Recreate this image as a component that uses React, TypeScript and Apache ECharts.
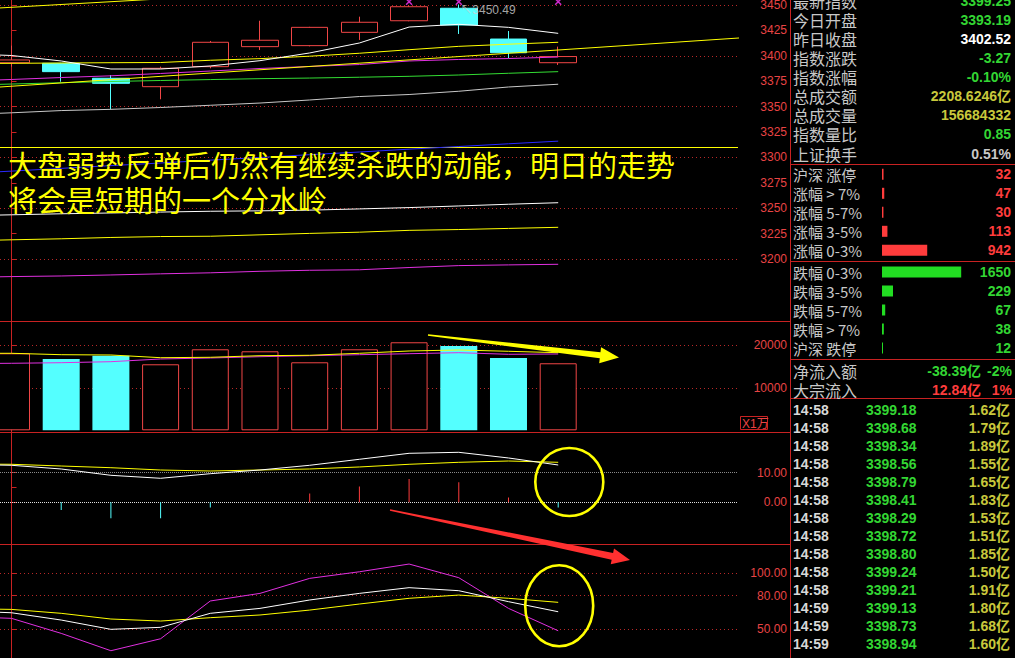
import { useEffect, useRef } from 'react';
import * as echarts from 'echarts';

// ---------------- data ----------------
const candleIdx = [0, 1, 2, 3, 4, 5, 6, 7, 8, 9, 10, 11];
const opens = [3393.2, 3392.6, 3377.9, 3369.6, 3389.3, 3409.0, 3410.0, 3423.1, 3434.5, 3446.8, 3416.5, 3393.19];
const closes = [3395.9, 3384.4, 3372.9, 3387.7, 3413.3, 3415.3, 3428.0, 3433.0, 3448.3, 3430.3, 3403.0, 3399.25];
const lows = [3389.3, 3374.5, 3347.3, 3357.2, 3387.7, 3405.7, 3409.3, 3415.6, 3434.0, 3421.5, 3397.5, 3391.0];
const highs = [3410.0, 3393.0, 3381.1, 3389.3, 3414.6, 3434.5, 3428.5, 3438.5, 3449.5, 3450.49, 3424.4, 3409.0];

// moving averages on the price panel (first value = bar before the visible window)
const maWhite = [3402.0, 3400.3, 3394.9, 3387.0, 3387.0, 3390.0, 3395.2, 3402.8, 3412.6, 3428.3, 3431.0, 3428.0, 3422.1];
const maYellow = [3392.4, 3392.6, 3392.9, 3393.2, 3393.4, 3395.6, 3397.2, 3399.6, 3402.5, 3406.0, 3409.3, 3411.4, 3413.3];
const maMagenta = [3375.0, 3376.7, 3378.6, 3380.3, 3382.6, 3385.0, 3387.5, 3389.5, 3391.4, 3394.9, 3396.4, 3397.3, 3398.8];
const maGreen = [3371.0, 3372.2, 3373.5, 3374.7, 3375.7, 3376.6, 3377.5, 3378.1, 3378.9, 3379.8, 3381.1, 3382.8, 3384.4];
const maGrey = [3342.0, 3343.9, 3346.1, 3347.3, 3349.1, 3351.3, 3353.5, 3356.5, 3359.9, 3361.9, 3365.1, 3369.3, 3372.0];
const maBlue = [3284.0, 3286.5, 3289.2, 3291.9, 3294.5, 3297.3, 3299.9, 3302.7, 3305.3, 3308.1, 3310.7, 3313.4, 3316.0];
const maLowWhite = [3242.5, 3243.5, 3244.5, 3245.3, 3246.2, 3247.0, 3247.4, 3248.1, 3249.3, 3250.6, 3252.2, 3253.9, 3255.4];
const maLowYellow = [3217.8, 3218.9, 3219.9, 3221.2, 3222.1, 3222.4, 3223.8, 3225.2, 3226.4, 3228.2, 3229.0, 3230.1, 3231.2];
const maLowMagenta = [3181.8, 3182.7, 3183.3, 3184.3, 3185.4, 3186.4, 3187.9, 3188.9, 3189.4, 3191.6, 3193.5, 3194.2, 3194.8];

// drawn trend lines: [index, price]
const trendLong = [[-1, 3366.8], [15, 3418.7]];
const trendTop = [[-1, 3445.0], [3, 3456.0]];
const hLineLevel = 3310;
const signalIdx = [8, 9, 11];
const signalLevel = 3453.2;
const highMarkIdx = 9;
const highMarkValue = 3450.49;

// volume (x1万)
const volumes = [18120, 16780, 17550, 15530, 19060, 18590, 16000, 19060, 20710, 19840, 17010, 15770];
const volMaYellow = [18120, 18118, 17788, 17718, 17082, 17176, 17553, 17647, 18118, 18659, 18894, 18588, 18259];
const volMaMagenta = [15700, 15765, 15906, 16141, 16776, 17012, 17318, 17553, 17788, 18024, 18259, 17882, 17953];

// MACD
const macdDif = [12.8, 12.5, 11.25, 9.12, 8.11, 9.66, 10.91, 12.5, 14.53, 16.55, 16.89, 14.97, 12.6];
const macdDea = [12.95, 12.84, 12.26, 11.69, 10.91, 10.57, 10.91, 11.25, 11.93, 12.84, 13.51, 13.95, 13.51];
const macdHist = [0, -2.6, -5.4, -5.4, -1.8, 0, 3.0, 5.3, 7.9, 6.8, 1.6, -1.8];

// KDJ
const kdjK = [66.5, 64.8, 58.3, 50.0, 51.8, 64.3, 68.7, 76.2, 82.1, 87.2, 84.5, 74.7, 65.7];
const kdjD = [68.5, 67.8, 64.3, 59.2, 57.4, 60.4, 62.8, 67.2, 72.6, 77.7, 80.6, 77.7, 74.1];
const kdjJ = [61.5, 59.8, 46.4, 30.9, 41.6, 75.3, 82.1, 95.5, 101.4, 108.3, 96.1, 68.7, 48.7];

// axis ticks / labels
const priceTicks = [3200, 3225, 3250, 3275, 3300, 3325, 3350, 3375, 3400, 3425, 3450];
const priceGrid = [3200, 3250, 3300, 3350, 3400, 3450];
const volTicks = [10000, 15000, 20000];
const volLabels = [10000, 20000];
const macdTicks = [0, 5, 10];
const macdLabels = [0, 10];
const kdjTicks = [50, 80, 100];

// right info panel
const infoLabels = ['最新指数', '今日开盘', '昨日收盘', '指数涨跌', '指数涨幅', '总成交额', '总成交量', '指数量比', '上证换手'];
const infoValues = ['3399.25', '3393.19', '3402.52', '-3.27', '-0.10%', '2208.6246亿', '156684332', '0.85', '0.51%'];
const infoColors = ['#33d633', '#33d633', '#ffffff', '#33d633', '#33d633', '#c8c83c', '#c8c83c', '#33d633', '#c8c8c8'];

const upLabels = ['沪深 涨停', '涨幅 > 7%', '涨幅 5-7%', '涨幅 3-5%', '涨幅 0-3%'];
const upCounts = [32, 47, 30, 113, 942];
const downLabels = ['跌幅 0-3%', '跌幅 3-5%', '跌幅 5-7%', '跌幅 > 7%', '沪深 跌停'];
const downCounts = [1650, 229, 67, 38, 12];

const flowLabels = ['净流入额', '大宗流入'];
const flowAmounts = ['-38.39亿', '12.84亿'];
const flowPcts = ['-2%', '1%'];
const flowColors = ['#33d633', '#ff3c3c'];

const tickTimes = ['14:58', '14:58', '14:58', '14:58', '14:58', '14:58', '14:58', '14:58', '14:58', '14:58', '14:58', '14:59', '14:59', '14:59'];
const tickPrices = ['3399.18', '3398.68', '3398.34', '3398.56', '3398.79', '3398.41', '3398.29', '3398.72', '3398.80', '3399.24', '3399.21', '3399.13', '3398.73', '3398.94'];
const tickVols = ['1.62', '1.79', '1.89', '1.55', '1.65', '1.83', '1.53', '1.51', '1.85', '1.50', '1.91', '1.80', '1.68', '1.60'];

const noteLines = ['大盘弱势反弹后仍然有继续杀跌的动能，明日的走势', '将会是短期的一个分水岭'];

// ---------------- styles ----------------
const RED_LINE = '#c82222';
const LABEL_RED = '#e84444';
const DOT_RED = '#b82828';
const CANDLE_RED = '#f04646';
const CYAN = '#54ffff';
const YELLOW = '#ffff00';
const NUM_FONT = '"Liberation Sans", Arial, "Noto Sans CJK SC", sans-serif';
const CJK_FONT = '"Noto Sans CJK SC", sans-serif';
const X_MIN = -0.2314;
const X_MAX = 14.618;

const withPrev = (arr: number[]) => arr.map((v, i) => [i - 1, v]);

function lineSeries(data: number[][], color: string, g: number, extra: any = {}) {
  return {
    type: 'line', xAxisIndex: g, yAxisIndex: g, data, symbol: 'none', silent: true,
    lineStyle: { color, width: 1 }, z: 3, clip: true, ...extra,
  };
}

function dotLines(values: number[], color = DOT_RED, type: any = [1, 3]) {
  return values.map((v) => ({ yAxis: v, lineStyle: { color, type, width: 1 } }));
}

function markLines(data: any[]) {
  return { silent: true, symbol: ['none', 'none'], label: { show: false }, z: 1, animation: false, data };
}

function yAx(g: number, min: number, max: number, ticks: number[], labels: number[], fmt: (v: number) => string) {
  return {
    type: 'value', gridIndex: g, position: 'right', min, max,
    axisLine: { show: true, lineStyle: { color: RED_LINE, width: 1 } },
    axisTick: { show: true, inside: false, length: 5, lineStyle: { color: RED_LINE }, customValues: ticks },
    axisLabel: {
      show: true, customValues: labels, formatter: fmt, color: LABEL_RED, fontSize: 12,
      fontFamily: NUM_FONT, align: 'right', margin: 49,
    },
    splitLine: { show: false },
  };
}

function txt(x: number, y: number, text: string, fill: string, fontSize: number, family: string, align = 'left', weight = 'normal') {
  return {
    type: 'text', x, y, silent: true, z: 100,
    style: {
      text, fill, fontSize, fontFamily: family, fontWeight: weight,
      align, verticalAlign: 'middle', textAlign: align, textVerticalAlign: 'middle',
    },
  };
}

function arrowPoints(x1: number, y1: number, x2: number, y2: number, w0: number, w1: number, headLen: number, headHalf: number) {
  const dx = x2 - x1, dy = y2 - y1;
  const L = Math.hypot(dx, dy);
  const ux = dx / L, uy = dy / L, nx = -uy, ny = ux;
  const bx = x2 - ux * headLen, by = y2 - uy * headLen;
  return [
    [x1 + nx * w0 / 2, y1 + ny * w0 / 2],
    [bx + nx * w1 / 2, by + ny * w1 / 2],
    [bx + nx * headHalf, by + ny * headHalf],
    [x2, y2],
    [bx - nx * headHalf, by - ny * headHalf],
    [bx - nx * w1 / 2, by - ny * w1 / 2],
    [x1 - nx * w0 / 2, y1 - ny * w0 / 2],
  ];
}

function buildOption() {
  const isUp = candleIdx.map((i) => closes[i] >= opens[i]);
  const candleData = candleIdx.map((i) => [i, opens[i], closes[i], lows[i], highs[i]]);
  const volData = candleIdx.map((i) => ({
    value: [i, volumes[i]],
    itemStyle: isUp[i]
      ? { color: '#000', borderColor: CANDLE_RED, borderWidth: 1 }
      : { color: CYAN, borderColor: CYAN, borderWidth: 0 },
  }));
  const histData = candleIdx.map((i) => ({
    value: [i, macdHist[i]],
    itemStyle: { color: macdHist[i] >= 0 ? '#ff3c3c' : CYAN },
  }));

  const xBase = { type: 'value', min: X_MIN, max: X_MAX, show: false };

  const graphics: any[] = [];
  const hl = (x1: number, x2: number, y: number) => ({
    type: 'line', silent: true, z: 95, shape: { x1, y1: y, x2, y2: y }, style: { stroke: RED_LINE, lineWidth: 1 },
  });
  graphics.push(hl(0, 790, 321.5), hl(0, 790, 432.5), hl(0, 790, 544.5));
  graphics.push(hl(790, 1015, 164.5), hl(790, 1015, 261.5), hl(790, 1015, 359.5), hl(790, 1015, 398.5));
  graphics.push({ type: 'line', silent: true, z: 95, shape: { x1: 790.5, y1: 0, x2: 790.5, y2: 658 }, style: { stroke: RED_LINE, lineWidth: 1 } });

  // X1万 box
  graphics.push({ type: 'rect', silent: true, z: 96, shape: { x: 740.5, y: 416.5, width: 27, height: 13 }, style: { fill: 'none', stroke: RED_LINE, lineWidth: 1 } });
  graphics.push(txt(742, 423.5, 'X1万', LABEL_RED, 12, NUM_FONT));

  // info rows
  infoLabels.forEach((l, i) => {
    const y = 1.2 + 19.04 * i;
    graphics.push(txt(793, y, l, '#c8c8c8', 16, CJK_FONT));
    graphics.push(txt(1011, y, infoValues[i], infoColors[i], 14, NUM_FONT, 'right', 'bold'));
  });
  upCounts.forEach((v, i) => graphics.push(txt(1011, 174.3 + 19 * i, String(v), '#ff3c3c', 14, NUM_FONT, 'right', 'bold')));
  downCounts.forEach((v, i) => graphics.push(txt(1011, 272 + 19 * i, String(v), '#33d633', 14, NUM_FONT, 'right', 'bold')));
  flowLabels.forEach((l, i) => {
    const y = 371 + 18.5 * i;
    graphics.push(txt(793, y, l, '#c8c8c8', 16, CJK_FONT));
    graphics.push(txt(981, y, flowAmounts[i], flowColors[i], 14, NUM_FONT, 'right', 'bold'));
    graphics.push(txt(1012, y, flowPcts[i], flowColors[i], 14, NUM_FONT, 'right', 'bold'));
  });
  tickTimes.forEach((t, i) => {
    const y = 410 + 18 * i;
    graphics.push(txt(793, y, t, '#d8d8d8', 14, NUM_FONT, 'left', 'bold'));
    graphics.push(txt(866, y, tickPrices[i], '#33d633', 14, NUM_FONT, 'left', 'bold'));
    graphics.push(txt(1010, y, tickVols[i] + '亿', '#c8c83c', 14, NUM_FONT, 'right', 'bold'));
  });

  // annotation text
  graphics.push(txt(8, 164, noteLines[0], YELLOW, 29, CJK_FONT));
  graphics.push(txt(8, 198.5, noteLines[1], YELLOW, 29, CJK_FONT));

  // arrows
  graphics.push({ type: 'polygon', silent: true, z: 110, shape: { points: arrowPoints(428, 335, 619, 357.5, 1.5, 6, 19, 8) }, style: { fill: YELLOW } });
  graphics.push({ type: 'polygon', silent: true, z: 110, shape: { points: arrowPoints(390, 510, 630, 560, 1.5, 7, 18, 8) }, style: { fill: '#ff3030' } });

  // ellipses
  graphics.push({ type: 'ellipse', silent: true, z: 110, shape: { cx: 569.3, cy: 482, rx: 34, ry: 34 }, style: { fill: 'none', stroke: YELLOW, lineWidth: 2.6 } });
  graphics.push({ type: 'ellipse', silent: true, z: 110, shape: { cx: 559.2, cy: 605.7, rx: 34, ry: 40.5 }, style: { fill: 'none', stroke: YELLOW, lineWidth: 2.6 } });

  const gridBase = { left: 0, width: 738, containLabel: false, outerBoundsMode: 'none', show: false };

  return {
    animation: false,
    backgroundColor: '#000',
    grid: [
      { ...gridBase, top: 0, height: 321 },
      { ...gridBase, top: 322, height: 110 },
      { ...gridBase, top: 433, height: 111 },
      { ...gridBase, top: 545, height: 113 },
      { left: 882, width: 96, top: 164.8, height: 95, containLabel: false, outerBoundsMode: 'none' },
      { left: 882, width: 96, top: 262.5, height: 95, containLabel: false, outerBoundsMode: 'none' },
    ],
    xAxis: [
      { ...xBase, gridIndex: 0 },
      { ...xBase, gridIndex: 1 },
      { ...xBase, gridIndex: 2 },
      { ...xBase, gridIndex: 3 },
      { type: 'value', gridIndex: 4, min: 0, max: 2000, show: false },
      { type: 'value', gridIndex: 5, min: 0, max: 2000, show: false },
    ],
    yAxis: [
      yAx(0, 3138.98, 3454.92, priceTicks, priceTicks, (v) => String(Math.round(v))),
      yAx(1, -400, 25480, volTicks, volLabels, (v) => String(Math.round(v))),
      yAx(2, -14.09, 23.41, macdTicks, macdLabels, (v) => Number(v).toFixed(2)),
      yAx(3, 24.4, 125.3, kdjTicks, kdjTicks, (v) => Number(v).toFixed(2)),
      {
        type: 'category', gridIndex: 4, inverse: true, data: upLabels,
        axisLine: { show: false }, axisTick: { show: false }, splitLine: { show: false },
        axisLabel: { align: 'left', margin: 89, color: '#c8c8c8', fontSize: 15, fontFamily: CJK_FONT, interval: 0 },
      },
      {
        type: 'category', gridIndex: 5, inverse: true, data: downLabels,
        axisLine: { show: false }, axisTick: { show: false }, splitLine: { show: false },
        axisLabel: { align: 'left', margin: 89, color: '#c8c8c8', fontSize: 15, fontFamily: CJK_FONT, interval: 0 },
      },
    ],
    series: [
      // price panel
      lineSeries(withPrev(maGrey), '#c8c8c8', 0, {
        markLine: markLines([
          ...dotLines(priceGrid),
          { yAxis: hLineLevel, lineStyle: { color: YELLOW, type: 'solid', width: 1 } },
        ]),
      }),
      {
        type: 'candlestick', xAxisIndex: 0, yAxisIndex: 0, data: candleData, barWidth: 37, z: 2, silent: true,
        itemStyle: { color: '#000', color0: CYAN, borderColor: CANDLE_RED, borderColor0: CYAN, borderWidth: 1 },
      },
      lineSeries(withPrev(maBlue), '#2a2aff', 0),
      lineSeries(withPrev(maLowWhite), '#ffffff', 0),
      lineSeries(withPrev(maLowYellow), YELLOW, 0),
      lineSeries(withPrev(maLowMagenta), '#e030e0', 0),
      lineSeries(withPrev(maGreen), '#33dd33', 0),
      lineSeries(withPrev(maMagenta), '#e030e0', 0),
      lineSeries(trendLong, YELLOW, 0),
      lineSeries(trendTop, YELLOW, 0),
      lineSeries(withPrev(maYellow), YELLOW, 0),
      lineSeries(withPrev(maWhite), '#ffffff', 0),
      {
        type: 'scatter', xAxisIndex: 0, yAxisIndex: 0, silent: true, z: 4,
        data: signalIdx.map((i) => [i, signalLevel]),
        symbol: 'path://M0 0L10 10M10 0L0 10', symbolSize: 6,
        itemStyle: { color: 'none', borderColor: '#ff33ff', borderWidth: 1.5 },
      },
      {
        type: 'scatter', xAxisIndex: 0, yAxisIndex: 0, silent: true, z: 4,
        data: [[highMarkIdx, highMarkValue]], symbolSize: 1, itemStyle: { color: 'rgba(0,0,0,0)' },
        label: {
          show: true, position: 'right', distance: 1, offset: [0, 5],
          formatter: () => '↖' + highMarkValue.toFixed(2), color: '#d0d0d0', fontSize: 12, fontFamily: NUM_FONT,
        },
      },
      // volume panel
      {
        type: 'bar', xAxisIndex: 1, yAxisIndex: 1, data: volData, barWidth: 37, z: 2, silent: true,
        markLine: markLines(dotLines([10000, 20000])),
      },
      lineSeries(withPrev(volMaMagenta), '#e030e0', 1),
      lineSeries(withPrev(volMaYellow), YELLOW, 1),
      // macd panel
      {
        type: 'bar', xAxisIndex: 2, yAxisIndex: 2, data: histData, barWidth: 1, z: 2, silent: true,
        markLine: markLines([...dotLines([10], '#8a8a8a', [1, 1]), ...dotLines([0], '#e0e0e0', [1, 1])]),
      },
      lineSeries(withPrev(macdDea), YELLOW, 2),
      lineSeries(withPrev(macdDif), '#ffffff', 2),
      // kdj panel
      lineSeries(withPrev(kdjJ), '#e030e0', 3, { markLine: markLines(dotLines(kdjTicks)) }),
      lineSeries(withPrev(kdjD), YELLOW, 3),
      lineSeries(withPrev(kdjK), '#ffffff', 3),
      // breadth bars
      { type: 'bar', xAxisIndex: 4, yAxisIndex: 4, data: upCounts, barWidth: 11, barMinHeight: 1, silent: true, itemStyle: { color: '#ff3c3c' } },
      { type: 'bar', xAxisIndex: 5, yAxisIndex: 5, data: downCounts, barWidth: 11, barMinHeight: 1, silent: true, itemStyle: { color: '#22dd22' } },
    ],
    graphic: graphics,
  };
}

export default function App() {
  const ref = useRef<HTMLDivElement>(null);
  useEffect(() => {
    document.body.style.margin = '0';
    document.body.style.background = '#000';
    const chart = echarts.init(ref.current as HTMLDivElement, null, { renderer: 'svg' });
    chart.setOption(buildOption() as any);
    return () => chart.dispose();
  }, []);
  return (
    <div
      ref={ref}
      style={{ position: 'fixed', left: 0, top: 0, width: 1015, height: 658, background: '#000' }}
    />
  );
}
